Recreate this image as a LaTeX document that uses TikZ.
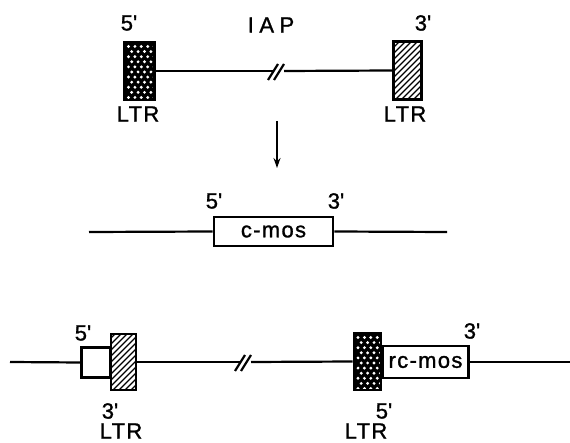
\documentclass[tikz,border=0pt]{standalone}
\usepackage{fontspec}
\setmainfont{Liberation Sans}[LetterSpace=6,FakeBold=1.2]
\usetikzlibrary{calc,arrows.meta}
\newcommand{\pr}{\textquotesingle}
\tikzset{
  lab/.style={inner sep=0pt, font=\fontsize{22}{22}\selectfont},
  dna/.style={line width=2.2pt},
  plainbox/.style={draw, fill=white, line width=2.6pt, inner sep=0pt, font=\fontsize{22}{22}\selectfont},
  dotbox/.style={draw, fill=black, line width=2.6pt, inner sep=0pt,
    path picture={
      \foreach \i in {0,...,5} \foreach \j in {0,...,11} {
        \pgfmathsetmacro{\dx}{4+\i*6.4+mod(\j,2)*3.2}
        \pgfmathsetmacro{\dy}{4.5+\j*5.1}
        \fill[white] ($(path picture bounding box.north west)+(\dx,\dy)$) circle (1.6);
      }}},
  hatchbox/.style={draw, fill=white, line width=2.6pt, inner sep=0pt,
    path picture={
      \foreach \k in {-72,-66,...,40} {
        \draw[line width=1.3pt] ($(path picture bounding box.south west)+(\k,2)$) -- ++(72,-72);
      }}},
  brk/.style={line width=2.2pt},
  arr/.style={line width=1.6pt, -{Stealth[length=10pt,width=7pt]}}
}
\begin{document}
\begin{tikzpicture}[x=1pt,y=-1pt]
\useasboundingbox (0,0) rectangle (570,443);
% ---- top: IAP ----
\node[dotbox, minimum width=30, minimum height=58] (L1) at (139.5,71) {};
\node[hatchbox, minimum width=28, minimum height=58] (R1) at (407.5,70.5) {};
\coordinate (b1l) at (273,71);
\coordinate (b1r) at (284,71);
\draw[dna] (L1.east) -- (b1l);
\draw[dna] (b1r) -- (R1.west);
\draw[brk] (268,80) -- (278,64);
\draw[brk] (274,80) -- (284,64);
\node[lab] (t5) at (129,23) {5\pr};
\node[lab] (tiap) at (271,25) {\addfontfeature{LetterSpace=25}IAP};
\node[lab] (t3) at (423,23) {3\pr};
\node[lab] (tl1) at (138,114) {LTR};
\node[lab] (tl2) at (405,114) {LTR};
% ---- arrow ----
\coordinate (a0) at (277,121);
\coordinate (a1) at (277,168);
\draw[arr] (a0) -- (a1);
% ---- middle: c-mos ----
\node[plainbox, minimum width=119, minimum height=29] (cm) at (273.5,231.5) {c-mos};
\coordinate (m0) at (89,232);
\coordinate (m1) at (447,232);
\draw[dna] (m0) -- (cm.west);
\draw[dna] (cm.east) -- (m1);
\node[lab] (m5) at (214,201) {5\pr};
\node[lab] (m3) at (336,201) {3\pr};
% ---- bottom ----
\node[plainbox, minimum width=29, minimum height=30] (wb) at (96,362.5) {};
\node[hatchbox, minimum width=25, minimum height=56] (hb) at (123.5,362) {};
\node[plainbox, minimum width=86, minimum height=32] (rc) at (425.5,362) {rc-mos\hspace{8pt}};
\node[dotbox, minimum width=27, minimum height=57] (db) at (367.5,361.5) {};
\coordinate (c0) at (10,362);
\coordinate (c1) at (570,362);
\coordinate (b2l) at (240,362);
\coordinate (b2r) at (251,362);
\draw[dna] (c0) -- (wb.west);
\draw[dna] (hb.east) -- (b2l);
\draw[dna] (b2r) -- (db.west);
\draw[dna] (rc.east) -- (c1);
\draw[brk] (235,371) -- (245,355);
\draw[brk] (241,371) -- (251,355);
\node[lab] (l5) at (83,333) {5\pr};
\node[lab] (l3) at (110,411) {3\pr};
\node[lab] (ll) at (121,431) {LTR};
\node[lab] (r5) at (384,411) {5\pr};
\node[lab] (rl) at (366,431) {LTR};
\node[lab] (r3) at (472,331) {3\pr};
\end{tikzpicture}
\end{document}
